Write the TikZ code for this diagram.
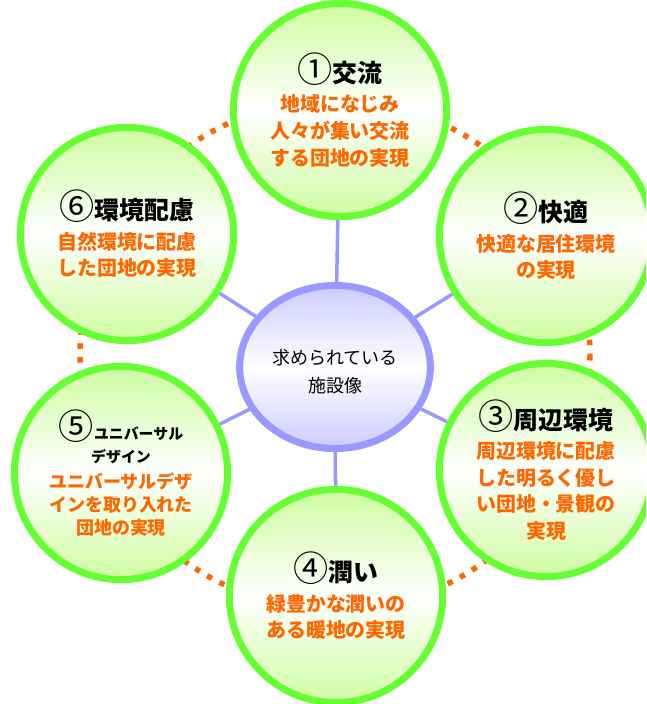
\documentclass[tikz,border=0pt]{standalone}
\usepackage{fontspec}
\newfontfamily\jp{Noto Sans CJK JP}
\usetikzlibrary{shapes.geometric, backgrounds}
\definecolor{ringgreen}{RGB}{102,255,51}
\definecolor{filgreen}{RGB}{206,252,160}
\definecolor{hubblue}{RGB}{153,153,255}
\definecolor{hubfill}{RGB}{204,204,255}
\definecolor{txtorange}{RGB}{255,102,0}
\tikzset{%
    ring/.style={circle, draw=ringgreen, line width=5pt, minimum size=5.33cm, inner sep=0pt,
        top color=filgreen, bottom color=filgreen, middle color=white,
        align=center, text=txtorange, font=\jp\bfseries\fontsize{14.2}{19}\selectfont},
    hubc/.style={ellipse, draw=hubblue, line width=5pt, minimum width=4.475cm, minimum height=4.075cm,
        top color=hubfill, bottom color=hubfill, middle color=white,
        align=center, font=\jp\fontsize{12.8}{20}\selectfont},
    lnk/.style={draw=hubblue, line width=2.5pt},
    dotl/.style={draw=txtorange, line width=3.9pt, dash pattern=on 3.9pt off 6pt},
}
\newcommand{\ttl}[2]{{\color{black}{\mdseries\fontsize{25}{22}\selectfont #1}\fontsize{17.7}{22}\selectfont #2}}
\newcommand{\ttls}[1]{{\color{black}\fontsize{10.6}{16}\selectfont #1}}

\begin{document}
\begin{tikzpicture}[x=0.025cm, y=-0.025cm]
    \useasboundingbox (0,0) rectangle (646,704);
    \clip (0,0) rectangle (646,704);
    % centre and the six themes
    \node[hubc] (hub) at (335,367) {\\[-2pt]求められている\\施設像};
    \node[ring] (c1) at (340,110) {\ttl{①}{交流}\\[2pt]地域になじみ\\人々が集い交流\\する団地の実現};
    \node[ring] (c2) at (546,236) {\ttl{②}{快適}\\[2pt]快適な居住環境\\の実現};
    \node[ring] (c3) at (546,470) {\ttl{③}{周辺環境}\\[2pt]周辺環境に配慮\\した明るく優し\\い団地・景観の\\実現};
    \node[ring] (c4) at (336,596) {\ttl{④}{潤い}\\[2pt]緑豊かな潤いの\\ある暖地の実現};
    \node[ring, font=\jp\bfseries\fontsize{12.8}{16.5}\selectfont] (c5) at (121,473)
        {\ttls{{\mdseries\fontsize{25}{16}\selectfont ⑤}ユニバーサル}\\\ttls{デザイン}\\[2pt]ユニバーサルデザ\\インを取り入れた\\団地の実現};
    \node[ring] (c6) at (127,234) {\ttl{⑥}{環境配慮}\\[2pt]自然環境に配慮\\した団地の実現};
    \coordinate (ctr) at (335,355);
    \begin{scope}[on background layer]
        \draw[dotl] (ctr) circle (255);
        \foreach \i in {1,...,6}
            \draw[lnk] (hub) -- (c\i);
    \end{scope}
\end{tikzpicture}
\end{document}
